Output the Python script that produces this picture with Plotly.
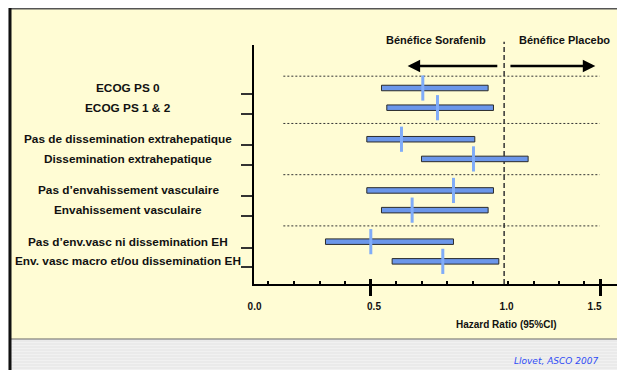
import plotly.graph_objects as go

# ---------------- data ----------------
labels = [
    "ECOG PS 0",
    "ECOG PS 1 & 2",
    "Pas de dissemination extrahepatique",
    "Dissemination extrahepatique",
    "Pas d\u2019envahissement vasculaire",
    "Envahissement vasculaire",
    "Pas d\u2019env.vasc ni dissemination EH",
    "Env. vasc macro et/ou dissemination EH",
]
group = [0, 0, 1, 1, 2, 2, 3, 3]
hr_low = [0.54, 0.56, 0.485, 0.69, 0.485, 0.54, 0.33, 0.58]
hr_high = [0.94, 0.96, 0.89, 1.09, 0.96, 0.94, 0.81, 0.98]
hr_point = [0.695, 0.75, 0.615, 0.885, 0.81, 0.655, 0.50, 0.77]

tick_text = ["0.0", "0.5", "1.0", "1.5"]
tick_hr = [0.064, 0.512, 1.009, 1.339]
major_hr = [0.5, 1.361]
minor_hr = [0.116, 0.213, 0.311, 0.404, 0.595, 0.692, 0.786, 0.883,
            1.014, 1.111, 1.204, 1.301]
x_range = [0.062, 1.427]

# ---------------- layout geometry (window pixel coordinates) ----------------
WIN_W, WIN_H = 625, 370
OX, OY = 8, 8                      # page body margin
FW, FH = WIN_W - OX, WIN_H - OY    # figure size
PX0, PX1 = 254, 618                # plot area left/right in window px
PY0, PY1 = 45, 284                 # plot area top/bottom in window px
pw, ph = PX1 - PX0, PY1 - PY0


def xp(px):
    return (px - PX0) / pw


def yp(py):
    return (PY1 - py) / ph


ROW0_PX, ROW_PITCH = 88, 19.7
GAP = 0.6
rows = [i + g * GAP for i, g in enumerate(group)]


def yr(py):
    return (py - ROW0_PX) / ROW_PITCH


y_range = [yr(PY1), yr(PY0)]

FONT = "Liberation Sans, Arial, Helvetica, sans-serif"
BAR_FILL = "#6b96ea"
BAR_LINE = "#2b2b2b"
PT_COLOR = "#80acf8"

fig = go.Figure()

fig.add_trace(go.Bar(
    orientation="h",
    y=rows,
    x=[h - l for l, h in zip(hr_low, hr_high)],
    base=hr_low,
    width=0.28,
    marker=dict(color=BAR_FILL, line=dict(color=BAR_LINE, width=1)),
    showlegend=False,
    hoverinfo="skip",
))

fig.add_trace(go.Scatter(
    x=hr_point, y=rows, mode="markers",
    marker=dict(symbol="line-ns", size=18, line=dict(width=3, color=PT_COLOR)),
    showlegend=False, hoverinfo="skip",
))

# invisible trace so the overlay axis (major tick marks) is drawn
fig.add_trace(go.Scatter(
    x=[major_hr[0]], y=[rows[0]], xaxis="x2", mode="markers",
    marker=dict(opacity=0), showlegend=False, hoverinfo="skip",
))

shapes = []
# background panels
shapes.append(dict(type="rect", xref="paper", yref="paper",
                   x0=xp(0), x1=xp(WIN_W), y0=yp(WIN_H), y1=yp(0),
                   fillcolor="#f1f1f1", line=dict(width=0), layer="below"))
for sy in range(341, 370, 3):
    shapes.append(dict(type="line", xref="paper", yref="paper",
                       x0=xp(11), x1=xp(618), y0=yp(sy), y1=yp(sy),
                       line=dict(color="#e3e3e3", width=1), layer="below"))
shapes.append(dict(type="rect", xref="paper", yref="paper",
                   x0=xp(11), x1=xp(618), y0=yp(339), y1=yp(6),
                   fillcolor="#fffcd4", line=dict(width=0), layer="below"))
shapes.append(dict(type="line", xref="paper", yref="paper",
                   x0=xp(11), x1=xp(618), y0=yp(8.7), y1=yp(8.7),
                   line=dict(color="#555555", width=1.5), layer="below"))
shapes.append(dict(type="line", xref="paper", yref="paper",
                   x0=xp(11), x1=xp(618), y0=yp(339), y1=yp(339),
                   line=dict(color="#666666", width=1), layer="below"))
shapes.append(dict(type="line", xref="paper", yref="paper",
                   x0=xp(10), x1=xp(10), y0=yp(0), y1=yp(WIN_H),
                   line=dict(color="#111111", width=3), layer="below"))
shapes.append(dict(type="line", xref="paper", yref="paper",
                   x0=xp(619.5), x1=xp(619.5), y0=yp(0), y1=yp(WIN_H),
                   line=dict(color="#111111", width=2.5), layer="below"))

# dotted separators between groups
sep_rows = [rows[0] - 0.6]
for k in range(1, len(rows)):
    if group[k] != group[k - 1]:
        sep_rows.append((rows[k - 1] + rows[k]) / 2)
for r in sep_rows:
    shapes.append(dict(type="line", xref="x", yref="y",
                       x0=0.172, x1=1.358, y0=r, y1=r,
                       line=dict(color="#333333", width=1, dash="2px,2px"),
                       layer="below"))

# reference line at HR = 1
shapes.append(dict(type="line", xref="x", yref="paper",
                   x0=1.0, x1=1.0, y0=0, y1=yp(41.7),
                   line=dict(color="#333333", width=1.5, dash="5px,3px"),
                   layer="below"))

annotations = []
for lab, r in zip(labels, rows):
    annotations.append(dict(
        x=xp(128), xref="paper", y=r, yref="y", text="<b>%s</b>" % lab,
        showarrow=False, xanchor="center", yanchor="middle",
        font=dict(family=FONT, size=11.8, color="#111111")))

arrow_y = yr(66)
annotations.append(dict(x=0.638, y=arrow_y, ax=0.980, ay=arrow_y,
                        xref="x", yref="y", axref="x", ayref="y", text="",
                        showarrow=True, arrowhead=2, arrowsize=1,
                        arrowwidth=2.5, arrowcolor="#000000", standoff=0))
annotations.append(dict(x=1.342, y=arrow_y, ax=1.018, ay=arrow_y,
                        xref="x", yref="y", axref="x", ayref="y", text="",
                        showarrow=True, arrowhead=2, arrowsize=1,
                        arrowwidth=2.5, arrowcolor="#000000", standoff=0))

annotations.append(dict(x=0.744, xref="x", y=yp(39.5), yref="paper",
                        text="<b>B\u00e9n\u00e9fice Sorafenib</b>",
                        showarrow=False, xanchor="center", yanchor="middle",
                        font=dict(family=FONT, size=11, color="#111111")))
annotations.append(dict(x=1.225, xref="x", y=yp(39.5), yref="paper",
                        text="<b>B\u00e9n\u00e9fice Placebo</b>",
                        showarrow=False, xanchor="center", yanchor="middle",
                        font=dict(family=FONT, size=11, color="#111111")))
annotations.append(dict(x=1.010, xref="x", y=yp(324), yref="paper",
                        text="<b>Hazard Ratio (95%CI)</b>",
                        showarrow=False, xanchor="center", yanchor="middle",
                        font=dict(family=FONT, size=10, color="#111111")))
annotations.append(dict(x=xp(600), xref="paper", y=yp(361), yref="paper",
                        text="<i>Llovet, ASCO 2007</i>",
                        showarrow=False, xanchor="right", yanchor="middle",
                        font=dict(family="DejaVu Sans, Verdana, sans-serif",
                                  size=9, color="#2f4cf5")))

fig.update_layout(
    width=FW, height=FH,
    margin=dict(l=PX0 - OX, r=OX + FW - PX1, t=PY0 - OY, b=OY + FH - PY1,
                pad=0),
    paper_bgcolor="#f1f1f1",
    plot_bgcolor="rgba(0,0,0,0)",
    barmode="overlay",
    showlegend=False,
    shapes=shapes,
    annotations=annotations,
    xaxis=dict(
        range=x_range, showgrid=False, zeroline=False,
        showline=True, linecolor="#000000", linewidth=2,
        tickmode="array", tickvals=tick_hr, ticktext=tick_text,
        ticks="", ticklabelstandoff=12,
        tickfont=dict(family=FONT, size=10, color="#111111", weight="bold"),
        minor=dict(tickmode="array", tickvals=minor_hr, ticks="inside",
                   ticklen=3, tickwidth=2, tickcolor="#000000",
                   showgrid=False),
    ),
    xaxis2=dict(
        overlaying="x", anchor="free", position=yp(278), side="bottom",
        range=x_range, showgrid=False, zeroline=False, showline=False,
        tickmode="array", tickvals=major_hr, ticks="outside", ticklen=17,
        tickwidth=2.5, tickcolor="#000000", showticklabels=False,
    ),
    yaxis=dict(
        range=y_range, showgrid=False, zeroline=False,
        showline=True, linecolor="#000000", linewidth=2,
        tickmode="array", tickvals=[r + 0.3 for r in rows],
        ticks="outside", ticklen=11, tickwidth=1.5, tickcolor="#333333",
        showticklabels=False,
    ),
)

fig.write_html("out.html")
